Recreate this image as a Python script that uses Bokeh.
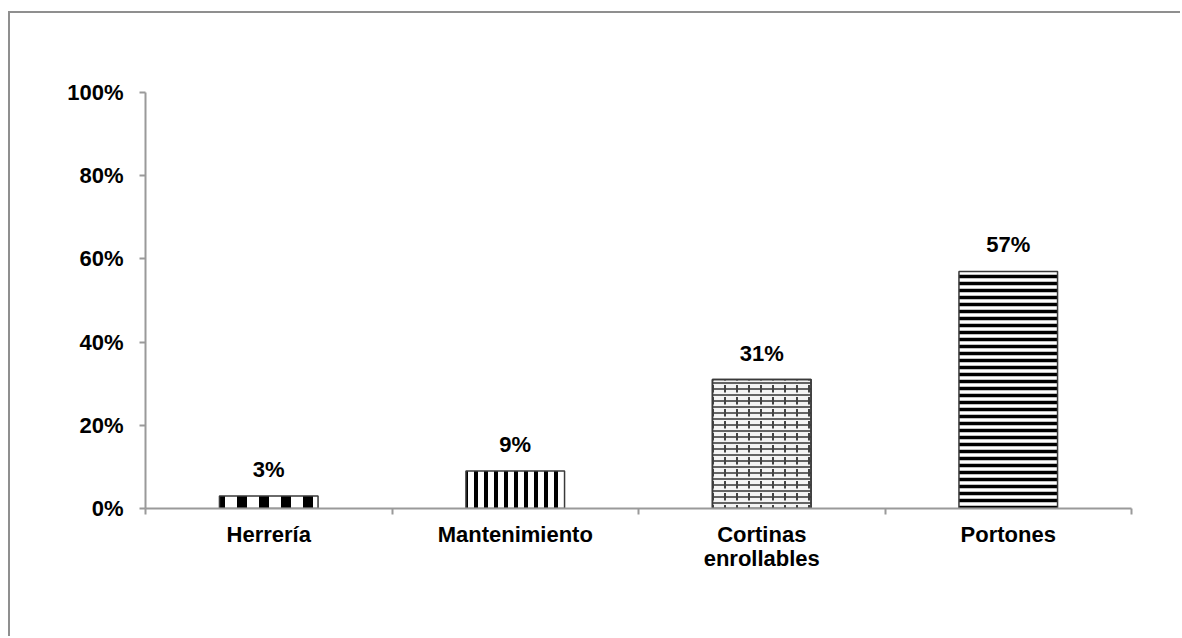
from bokeh.plotting import figure
from bokeh.models import (Range1d, FixedTicker, LinearAxis, ColumnDataSource,
                          NumeralTickFormatter)
from bokeh.embed import file_html
from bokeh.resources import INLINE
from bokeh.core.properties import value

categories = ["Herrería", "Mantenimiento", "Cortinas\nenrollables", "Portones"]
values = [0.03, 0.09, 0.31, 0.57]
value_labels = ["3%", "9%", "31%", "57%"]
y_ticks = [0, 0.2, 0.4, 0.6, 0.8, 1.0]

FONT = "Liberation Sans"
AXIS_COLOR = "#9a9a9a"
FS = "22px"

xs = [i + 0.5 for i in range(len(categories))]
bounds = list(range(len(categories) + 1))

p = figure(width=1172, height=625, output_backend="svg", toolbar_location=None,
           x_range=Range1d(0, len(categories)), y_range=Range1d(0, 1.0),
           x_axis_type=None, y_axis_type=None,
           min_border_left=135, min_border_right=51, min_border_top=79,
           min_border_bottom=130)
p.outline_line_color = None
p.grid.visible = False
p.background_fill_color = "white"
p.styles = {"margin-left": "8px", "margin-top": "11px",
            "border-left": "2px solid #8f8f8f", "border-top": "2px solid #8f8f8f"}

# y axis
yax = LinearAxis(ticker=FixedTicker(ticks=y_ticks, minor_ticks=[]),
                 formatter=NumeralTickFormatter(format="0%"))
yax.axis_line_color = AXIS_COLOR
yax.axis_line_width = 2
yax.major_tick_line_color = AXIS_COLOR
yax.major_tick_line_width = 2
yax.major_tick_in = 0
yax.major_tick_out = 6
yax.minor_tick_line_color = None
yax.major_label_standoff = 16
yax.major_label_text_font = FONT
yax.major_label_text_font_style = "bold"
yax.major_label_text_font_size = FS
yax.major_label_text_color = "black"
p.add_layout(yax, "left")

# x axis
xax = LinearAxis(ticker=FixedTicker(ticks=xs, minor_ticks=bounds),
                 major_label_overrides={x: c for x, c in zip(xs, categories)})
xax.axis_line_color = AXIS_COLOR
xax.axis_line_width = 2
xax.major_tick_line_color = None
xax.minor_tick_line_color = AXIS_COLOR
xax.minor_tick_line_width = 2
xax.minor_tick_in = 0
xax.minor_tick_out = 6
xax.major_label_standoff = 7
xax.major_label_text_font = FONT
xax.major_label_text_font_style = "bold"
xax.major_label_text_font_size = FS
xax.major_label_text_color = "black"
xax.major_label_text_line_height = 0.98
p.add_layout(xax, "below")

src = ColumnDataSource(dict(x=xs, top=values, lab=value_labels))

styles = [
    dict(hatch_pattern="vertical_line", hatch_scale=22, hatch_weight=10, hatch_color="black"),
    dict(hatch_pattern="vertical_line", hatch_scale=10, hatch_weight=4, hatch_color="black"),
    dict(hatch_pattern="horizontal_line", hatch_scale=6, hatch_weight=1.5, hatch_color="#333333"),
    dict(hatch_pattern="horizontal_line", hatch_scale=7, hatch_weight=3.5, hatch_color="black"),
]
for i, st in enumerate(styles):
    sub = ColumnDataSource(dict(x=[xs[i]], top=[values[i]]))
    p.vbar(x="x", top="top", bottom=0, width=0.4, source=sub,
           fill_color="#f4f4f4" if i == 2 else "white",
           line_color="#3a3a3a", line_width=1.5, **st)

# brick vertical dashes for Cortinas
sub = ColumnDataSource(dict(x=[xs[2]], top=[values[2]]))
p.vbar(x="x", top="top", bottom=0, width=0.4, source=sub,
       fill_color=None, line_color="#3a3a3a", line_width=1.5,
       hatch_color="#444444", hatch_pattern="vertical_dash", hatch_scale=12,
       hatch_weight=2)

p.text(x="x", y="top", text="lab", source=src, text_align="center",
       text_baseline="bottom", y_offset=-14, text_font=value(FONT),
       text_font_style="bold", text_font_size=FS, text_color="black")

open("out.html", "w").write(file_html(p, INLINE))
